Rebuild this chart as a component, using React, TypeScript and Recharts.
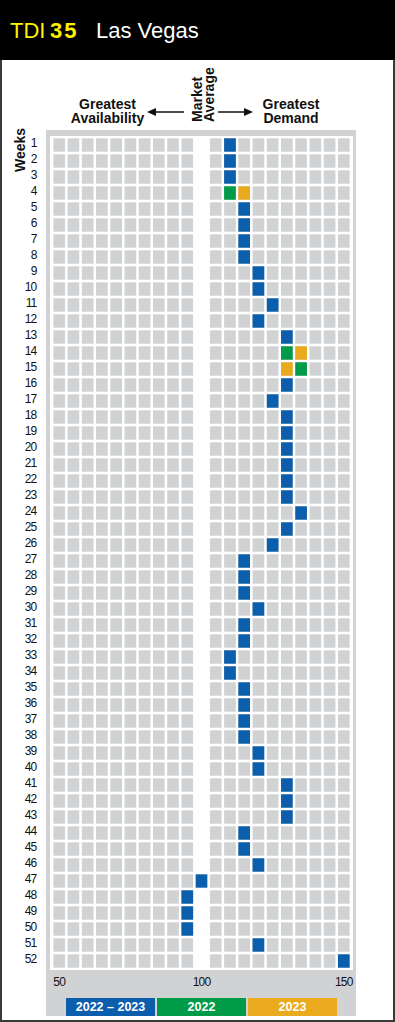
import React from "react";
import { ScatterChart, Scatter, XAxis, YAxis } from "recharts";

// weeks of the year (rows)
const weeks = [
  1, 2, 3, 4, 5, 6, 7, 8, 9, 10, 11, 12, 13, 14, 15, 16, 17, 18, 19, 20, 21, 22, 23, 24, 25, 26,
  27, 28, 29, 30, 31, 32, 33, 34, 35, 36, 37, 38, 39, 40, 41, 42, 43, 44, 45, 46, 47, 48, 49, 50, 51, 52,
];

// index columns of the grid (100 = market average, left blank)
const gridColumns = [50, 55, 60, 65, 70, 75, 80, 85, 90, 95, 105, 110, 115, 120, 125, 130, 135, 140, 145, 150];

// demand index per week
const index2022 = [
  110, 110, 110, 110, 115, 115, 115, 115, 120, 120, 125, 120, 130, 130, 135, 130, 125, 130, 130, 130, 130, 130, 130, 135, 130, 125,
  115, 115, 115, 120, 115, 115, 110, 110, 115, 115, 115, 115, 120, 120, 130, 130, 130, 115, 115, 120, 100, 95, 95, 95, 120, 150,
];
const index2023 = [
  110, 110, 110, 115, 115, 115, 115, 115, 120, 120, 125, 120, 130, 135, 130, 130, 125, 130, 130, 130, 130, 130, 130, 135, 130, 125,
  115, 115, 115, 120, 115, 115, 110, 110, 115, 115, 115, 115, 120, 120, 130, 130, 130, 115, 115, 120, 100, 95, 95, 95, 120, 150,
];

const xTicks = [50, 100, 150];
const legendLabels = ["2022 \u2013 2023", "2022", "2023"];

const BLUE = "#0b5eab";
const GREEN = "#009b48";
const ORANGE = "#e9aa1e";
const CELL = "#d1d2d4";
const FONT = "'Liberation Sans', Arial, Helvetica, sans-serif";

const background = weeks.flatMap((week) => gridColumns.map((index) => ({ week, index })));
const both = weeks.filter((w, i) => index2022[i] === index2023[i]).map((w) => ({ week: w, index: index2022[w - 1] }));
const only2022 = weeks.filter((w, i) => index2022[i] !== index2023[i]).map((w) => ({ week: w, index: index2022[w - 1] }));
const only2023 = weeks.filter((w, i) => index2022[i] !== index2023[i]).map((w) => ({ week: w, index: index2023[w - 1] }));

const cellShape = (fill: string) => (props: any) => (
  <rect x={props.cx - 5.85} y={props.cy - 6.7} width={11.7} height={13.4} fill={fill} />
);

const WeekTick = (props: any) => (
  <text x={props.x} y={props.y + 2} textAnchor="end" fontSize={12} letterSpacing={-0.8} fontFamily={FONT} fill="#111">
    {props.payload.value}
  </text>
);

const IndexTick = (props: any) => (
  <text x={props.x} y={props.y + 8.6} textAnchor="middle" fontSize={12} letterSpacing={-0.8} fontFamily={FONT} fill="#111">
    {props.payload.value}
  </text>
);

const legendColors = [BLUE, GREEN, ORANGE];

export default function App() {
  return (
    <div style={{ position: "relative", width: 395, height: 1022, background: "#fff", overflow: "hidden" }}>
      <style>{"body{margin:0}"}</style>
      <svg width={395} height={1022} style={{ position: "absolute", left: 0, top: 0 }}>
        <rect x={0} y={0} width={395} height={60} fill="#000" />
        <text x={10} y={38} fontSize={22} fontFamily={FONT} fill="#fff200">TDI</text>
        <text x={50} y={38} fontSize={22} fontWeight="bold" letterSpacing={2} fontFamily={FONT} fill="#fff200">35</text>
        <text x={96} y={38} fontSize={22} fontFamily={FONT} fill="#fff">Las Vegas</text>
        <path d="M1 60 V1021 H394 V60" fill="none" stroke="#3a3a3a" strokeWidth={2} />

        <g fontFamily={FONT} fontWeight="bold" fontSize={14} fill="#111">
          <text x={107.5} y={109} textAnchor="middle">Greatest</text>
          <text x={107.5} y={123} textAnchor="middle">Availability</text>
          <text x={291} y={109} textAnchor="middle">Greatest</text>
          <text x={291} y={123} textAnchor="middle">Demand</text>
          <text transform="translate(202,122) rotate(-90)">Market</text>
          <text transform="translate(214,122) rotate(-90)">Average</text>
          <text transform="translate(25,150) rotate(-90)" textAnchor="middle">Weeks</text>
        </g>
        <line x1={154} y1={112} x2={184} y2={112} stroke="#111" strokeWidth={1.5} />
        <path d="M147 112 L156 108 L156 116 Z" fill="#111" />
        <line x1={218} y1={112} x2={246} y2={112} stroke="#111" strokeWidth={1.5} />
        <path d="M253 112 L244 108 L244 116 Z" fill="#111" />

        <rect x={46} y={130} width={310} height={886} fill={CELL} />
        <rect x={50} y={136} width={303} height={834} fill="#fff" />

        {legendLabels.map((label, i) => (
          <g key={label}>
            <rect x={66 + i * 91} y={998} width={89} height={18} fill={legendColors[i]} />
            <text x={110.5 + i * 91} y={1011.3} textAnchor="middle" fontSize={12.5} fontWeight="bold" fontFamily={FONT} fill="#fff">
              {label}
            </text>
          </g>
        ))}
      </svg>

      <div style={{ position: "absolute", left: 0, top: 0 }}>
        <ScatterChart width={395} height={1022} margin={{ top: 137, right: 44.1, bottom: 23, left: 12.1 }}>
          <XAxis
            type="number"
            dataKey="index"
            domain={[47.5, 152.5]}
            ticks={xTicks}
            interval={0}
            axisLine={false}
            tickLine={false}
            tickSize={0}
            tickMargin={8}
            height={30}
            tick={<IndexTick />}
          />
          <YAxis
            type="number"
            dataKey="week"
            domain={[0.5, 52.5]}
            reversed
            ticks={weeks}
            interval={0}
            axisLine={false}
            tickLine={false}
            tickSize={0}
            tickMargin={15.6}
            width={40}
            tick={<WeekTick />}
          />
          <Scatter data={background} shape={cellShape(CELL)} isAnimationActive={false} />
          <Scatter data={both} shape={cellShape(BLUE)} isAnimationActive={false} />
          <Scatter data={only2022} shape={cellShape(GREEN)} isAnimationActive={false} />
          <Scatter data={only2023} shape={cellShape(ORANGE)} isAnimationActive={false} />
        </ScatterChart>
      </div>
    </div>
  );
}
